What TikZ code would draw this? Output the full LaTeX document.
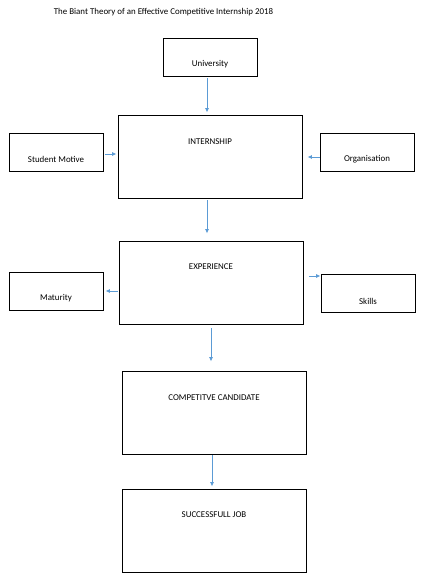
\documentclass[tikz,border=0pt]{standalone}
\usepackage{fontspec}
\setmainfont{Carlito}
\usetikzlibrary{arrows.meta}
\tikzset{
	>={Latex[length=4.5pt,width=4pt]},
}
\definecolor{linkblue}{RGB}{91,155,213}
\tikzstyle{smallbox}=[draw,line width=0.9pt,minimum width=94pt,minimum height=38pt,inner sep=0pt]
\tikzstyle{bigbox}=[draw,line width=0.9pt,minimum width=184pt,minimum height=83pt,inner sep=0pt]
\tikzstyle{boxtext}=[font=\fontsize{8.9}{10}\selectfont,inner sep=0pt,anchor=center]
\tikzstyle{link}=[->,linkblue,line width=1pt]

\begin{document}
\begin{tikzpicture}[x=1pt,y=-1pt]
      \useasboundingbox (0,0) rectangle (431,583);
      \node[boxtext] (title) at (163.5,12) {The Biant Theory of an Effective Competitive Internship 2018};
      \node[smallbox] (uni) at (210,57) {};
      \node[bigbox] (intern) at (210,156.5) {};
      \node[smallbox] (student) at (56,152) {};
      \node[smallbox] (org) at (367,152) {};
      \node[bigbox] (exp) at (211,282.5) {};
      \node[smallbox] (mat) at (56,291) {};
      \node[smallbox] (skills) at (368,293) {};
      \node[bigbox] (comp) at (214,412.5) {};
      \node[bigbox] (job) at (214,530.5) {};
      \node[boxtext] (unitext) at ([yshift=-27pt]uni.north) {University};
      \node[boxtext] (interntext) at ([yshift=-27pt]intern.north) {INTERNSHIP};
      \node[boxtext] (studenttext) at ([yshift=-27pt]student.north) {Student Motive};
      \node[boxtext] (orgtext) at ([yshift=-27pt]org.north) {Organisation};
      \node[boxtext] (exptext) at ([yshift=-26pt]exp.north) {EXPERIENCE};
      \node[boxtext] (mattext) at ([yshift=-27pt]mat.north) {Maturity};
      \node[boxtext] (skillstext) at ([yshift=-28pt]skills.north) {Skills};
      \node[boxtext] (comptext) at ([yshift=-27pt]comp.north) {COMPETITVE CANDIDATE};
      \node[boxtext] (jobtext) at ([yshift=-26pt]job.north) {SUCCESSFULL JOB};
      \draw[link,shorten <=2pt,shorten >=2pt] ([xshift=-3pt]uni.south) -- ([xshift=-3pt]uni.south |- intern.north);
      \draw[link,shorten <=2pt,shorten >=1pt] ([yshift=-2pt]student.east) -- ([yshift=-2pt]student.east -| intern.west);
      \draw[link,shorten >=5pt] ([yshift=-5pt]org.west) -- ([yshift=-5pt]org.west -| intern.east);
      \draw[link,shorten <=2pt,shorten >=7pt] ([xshift=-3pt]intern.south) -- ([xshift=-3pt]intern.south |- exp.north);
      \draw[link,shorten <=1pt,shorten >=2pt] (mat.east -| exp.west) -- (mat.east);
      \draw[link,shorten <=6pt] ([yshift=6.5pt]exp.east) -- ([yshift=6.5pt]exp.east -| skills.west);
      \draw[link,shorten <=4pt,shorten >=9pt] (exp.south) -- (exp.south |- comp.north);
      \draw[link,shorten <=1pt,shorten >=2pt] ([xshift=-2pt]comp.south) -- ([xshift=-2pt]comp.south |- job.north);
\end{tikzpicture}
\end{document}
